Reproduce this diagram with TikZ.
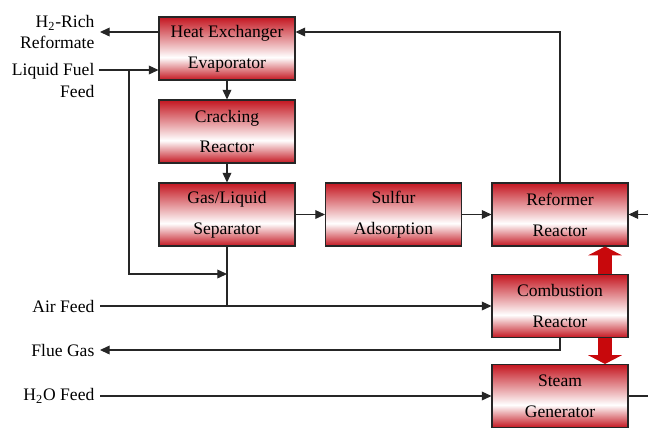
\documentclass[tikz,border=0pt]{standalone}
\usepackage{fontspec}
\setmainfont{Liberation Serif}
\usepackage{xcolor}
\usetikzlibrary{arrows.meta, positioning, calc}

\definecolor{procred}{RGB}{196,22,32}
\definecolor{heatred}{RGB}{200,8,12}
\pgfdeclareverticalshading{unitshade}{100bp}{color(0bp)=(procred); color(25bp)=(procred);
    color(43bp)=(white); color(75bp)=(procred); color(100bp)=(procred)}

\begin{document}
\begin{tikzpicture}[
    >={Triangle[length=5.5pt,width=5pt]},
    flow/.style={line width=0.6pt, draw=black!85},
    unit/.style={draw=black!85, line width=0.6pt, shading=unitshade,
        minimum width=2.72cm, minimum height=1.26cm, align=center, text=black,
        font=\fontsize{10}{17.6}\selectfont},
    stream/.style={anchor=east, align=right, inner sep=3pt, text=black, font=\fontsize{10}{12}\selectfont},
    heat/.style={line width=8.5pt, draw=heatred, -{Triangle[width=19pt,length=5pt]}}
]
    \useasboundingbox (0,0) rectangle (12.96,-8.54);

    % Draw process units as nodes
    \node[unit] (hx) at (4.54,-0.97) {Heat Exchanger\\Evaporator};
    \node[unit] (crack) at (4.54,-2.63) {Cracking\\Reactor};
    \node[unit] (sep) at (4.54,-4.29) {Gas/Liquid\\Separator};
    \node[unit] (sulfur) at (7.87,-4.29) {Sulfur\\Adsorption};
    \node[unit] (reformer) at (11.2,-4.29) {Reformer\\Reactor};
    \node[unit] (combust) at (11.2,-6.12) {Combustion\\Reactor};
    \node[unit] (steam) at (11.2,-7.92) {Steam\\Generator};

    % Draw stream labels
    \node[stream] (h2) at (2.0,-0.64) {H\textsubscript{2}-Rich\\Reformate};
    \node[stream] (fuel) at (2.0,-1.61) {Liquid Fuel\\Feed};
    \node[stream] (air) at (2.0,-6.12) {Air Feed};
    \node[stream] (flue) at (2.0,-7.0) {Flue Gas};
    \node[stream] (water) at (2.0,-7.92) {H\textsubscript{2}O Feed};

    % Free ends and branch points
    \coordinate (fuelin) at (1.98,-1.40);
    \coordinate (split) at (2.58,-1.40);
    \coordinate (mix) at (4.54,-5.48);
    \coordinate (ret) at (hx.east |- h2.east);
    \coordinate (heatin) at (12.96,-4.29);
    \coordinate (steamout) at (12.96,-7.92);

    % Draw main flow arrows
    \draw[flow, ->] (hx.west |- h2.east) -- (h2.east);
    \draw[flow, ->] (fuelin) -- (fuelin -| hx.west);
    \draw[flow, ->] (split) |- (mix);
    \draw[flow, ->] (hx) -- (crack);
    \draw[flow, ->] (crack) -- (sep);
    \draw[flow, ->] (sep) -- (sulfur);
    \draw[flow, ->] (sulfur) -- (reformer);
    \draw[flow, ->] (reformer.north) |- (ret);
    \draw[flow, ->] (heatin) -- (reformer.east);
    \draw[flow, ->] (sep.south) |- (combust.west);
    \draw[flow] (air.east) -- (air.east -| sep.south);
    \draw[flow, ->] (combust.south) |- (flue.east);
    \draw[flow, ->] (water.east) -- (steam.west);
    \draw[flow] (steam.east) -- (steamout);

    % Draw heat transfer arrows
    \draw[heat] ([xshift=0.9cm]combust.north) -- ([xshift=0.9cm]reformer.south);
    \draw[heat] ([xshift=0.9cm]combust.south) -- ([xshift=0.9cm]steam.north);
\end{tikzpicture}
\end{document}
